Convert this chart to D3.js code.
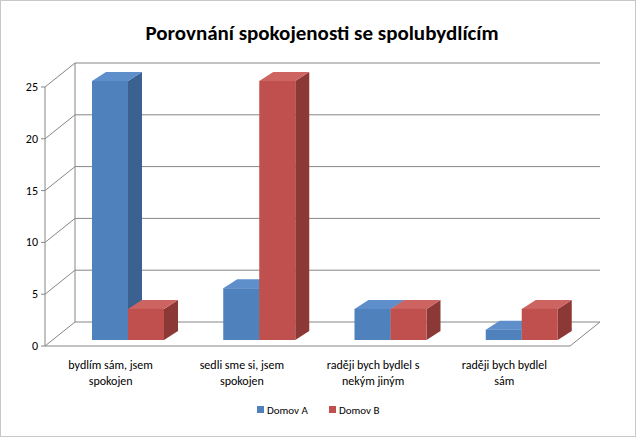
<!DOCTYPE html><html><head><meta charset="utf-8"><script src="https://cdn.jsdelivr.net/npm/d3@7"></script>
<style>body{margin:0;background:#fff}svg{font-family:Calibri,"Carlito","Liberation Sans",Arial,sans-serif}</style></head><body>
<svg id="c" width="636" height="437"></svg>
<script>
const categories=[["bydlím sám, jsem","spokojen"],["sedli sme si, jsem","spokojen"],["raději bych bydlel s","nekým jiným"],["raději bych bydlel","sám"]];
const seriesA=[25,5,3,1];
const seriesB=[3,25,3,3];
const seriesNames=["Domov A","Domov B"];
const ticks=[0,5,10,15,20,25];
const svg=d3.select("#c");
svg.append("rect").attr("x",0.5).attr("y",0.5).attr("width",635).attr("height",436).attr("fill","#fff").attr("stroke","#c8c8c8");
svg.append("text").attr("x",322).attr("y",40).attr("text-anchor","middle").attr("font-size",21).attr("font-weight","bold").text("Porovnání spokojenosti se spolubydlícím");
const DX=30,DY=-24,x0=45,x1=570,yB=346;
const y=d3.scaleLinear().domain([0,25]).range([yB,87]);
const xb=d3.scaleBand().domain(d3.range(4)).range([x0,x1]);
const g=svg.append("g");
// walls gridlines
ticks.forEach(t=>{const yy=y(t);
 g.append("path").attr("d",`M${x0},${yy}L${x0+DX},${yy+DY}L${x1+DX},${yy+DY}`).attr("fill","none").attr("stroke","#868686");
 g.append("line").attr("x1",x0-4).attr("x2",x0).attr("y1",yy).attr("y2",yy).attr("stroke","#868686");
 g.append("text").attr("x",x0-7).attr("y",yy+4).attr("text-anchor","end").attr("font-size",12).text(t);});
g.append("path").attr("d",`M${x0},${y(25)}L${x0},${yB}L${x1},${yB}L${x1+DX},${yB+DY}`).attr("fill","none").attr("stroke","#868686");
g.append("line").attr("x1",x0+DX).attr("x2",x0+DX).attr("y1",y(25)+DY).attr("y2",yB+DY).attr("stroke","#868686");
// bars
const bw=36,bdx=14,bdy=-9,base=yB-6,cols=[["#4F81BD","#3A6190","#5E8FCB"],["#C0504D","#8C3836","#CD6461"]];
const bars=[];
[seriesA,seriesB].forEach((s,si)=>s.forEach((v,i)=>bars.push({i,si,v})));
bars.sort((a,b)=>a.i-b.i||a.si-b.si);
const k=(yB-87)/25;
bars.forEach(b=>{const xl=xb(b.i)+47+b.si*bw,yt=base-b.v*k,c=cols[b.si];
 const gg=g.append("g");
 gg.append("path").attr("d",`M${xl+bw},${yt}L${xl+bw+bdx},${yt+bdy}L${xl+bw+bdx},${base+bdy}L${xl+bw},${base}Z`).attr("fill",c[1]);
 gg.append("path").attr("d",`M${xl},${yt}L${xl+bdx},${yt+bdy}L${xl+bw+bdx},${yt+bdy}L${xl+bw},${yt}Z`).attr("fill",c[2]);
 gg.append("rect").attr("x",xl).attr("y",yt).attr("width",bw).attr("height",base-yt).attr("fill",c[0]);});
// category labels
categories.forEach((lines,i)=>{const cx=xb(i)+xb.bandwidth()/2;
 lines.forEach((l,j)=>g.append("text").attr("x",cx).attr("y",369+j*16).attr("text-anchor","middle").attr("font-size",12).text(l));});
// legend
seriesNames.forEach((n,i)=>{const lx=257+i*72;
 svg.append("rect").attr("x",lx).attr("y",406).attr("width",7).attr("height",7).attr("fill",cols[i][0]);
 svg.append("text").attr("x",lx+10).attr("y",414).attr("font-size",11).text(n);});
</script></body></html>
